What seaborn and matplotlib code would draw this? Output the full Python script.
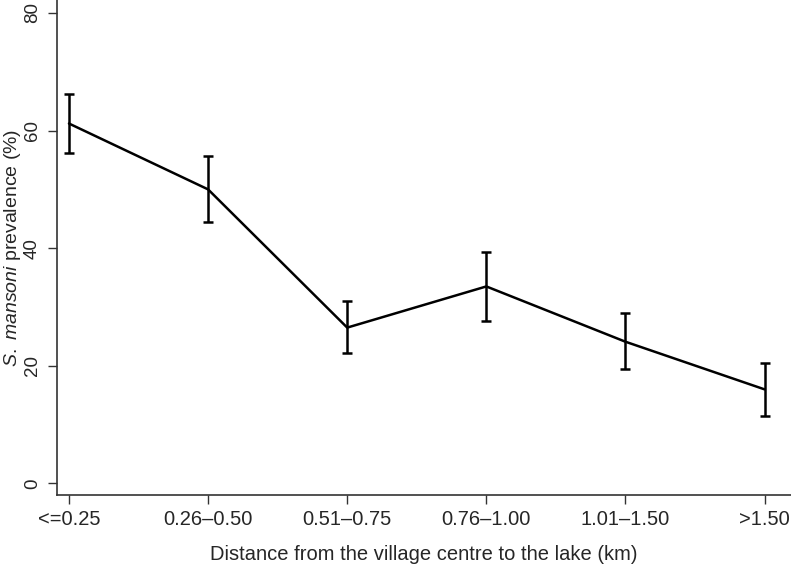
import numpy as np
import pandas as pd
import matplotlib
matplotlib.use('Agg')
import matplotlib.pyplot as plt
import seaborn as sns

# Data
categories = ['<=0.25', '0.26\u20130.50', '0.51\u20130.75', '0.76\u20131.00', '1.01\u20131.50', '>1.50']
prevalence = [61.2, 50.0, 26.5, 33.5, 24.1, 16.0]
ci_lower = [56.2, 44.5, 22.1, 27.7, 19.5, 11.4]
ci_upper = [66.2, 55.7, 31.1, 39.4, 29.0, 20.5]
y_ticks = [0, 20, 40, 60, 80]

sns.set_style('ticks')
plt.rcParams['font.family'] = ['Liberation Sans', 'DejaVu Sans']
plt.rcParams['mathtext.fontset'] = 'custom'
plt.rcParams['mathtext.it'] = 'Liberation Sans:italic'
plt.rcParams['mathtext.rm'] = 'Liberation Sans'

df = pd.DataFrame({'pos': np.arange(len(categories)), 'prev': prevalence,
                   'lo': ci_lower, 'hi': ci_upper})

fig = plt.figure(figsize=(7.91, 5.67), dpi=100)
ax = fig.add_axes([57 / 791, 72 / 567, 1 - 57 / 791, 1 - 72 / 567])

sns.lineplot(data=df, x='pos', y='prev', color='black', linewidth=1.8, ax=ax)
ax.errorbar(df['pos'], df['prev'],
            yerr=[df['prev'] - df['lo'], df['hi'] - df['prev']],
            fmt='none', ecolor='black', elinewidth=1.8, capsize=3.6, capthick=1.8)

ax.set_xlim(-0.086, 5.19)
ax.set_ylim(-1.96, 82.2)
ax.set_xticks(df['pos'])
ax.set_xticklabels(categories, fontsize=14.5)
ax.set_yticks(y_ticks)
ax.set_yticklabels([str(t) for t in y_ticks], fontsize=13.5, rotation=90, va='center')
ax.tick_params(axis='both', length=6.5, width=1, color='#333333')
ax.tick_params(axis='y', pad=5)
ax.tick_params(axis='x', pad=4)

ax.set_xlabel('Distance from the village centre to the lake (km)', fontsize=14.5, labelpad=12)
ax.set_ylabel(r'$\it{S.}$ $\it{mansoni}$ prevalence (%)', fontsize=14)
ax.yaxis.set_label_coords(-0.047, 0.5)

sns.despine(ax=ax)
for s in ['left', 'bottom']:
    ax.spines[s].set_linewidth(1.2)
    ax.spines[s].set_color('#333333')

fig.savefig('out.png', dpi=100)
